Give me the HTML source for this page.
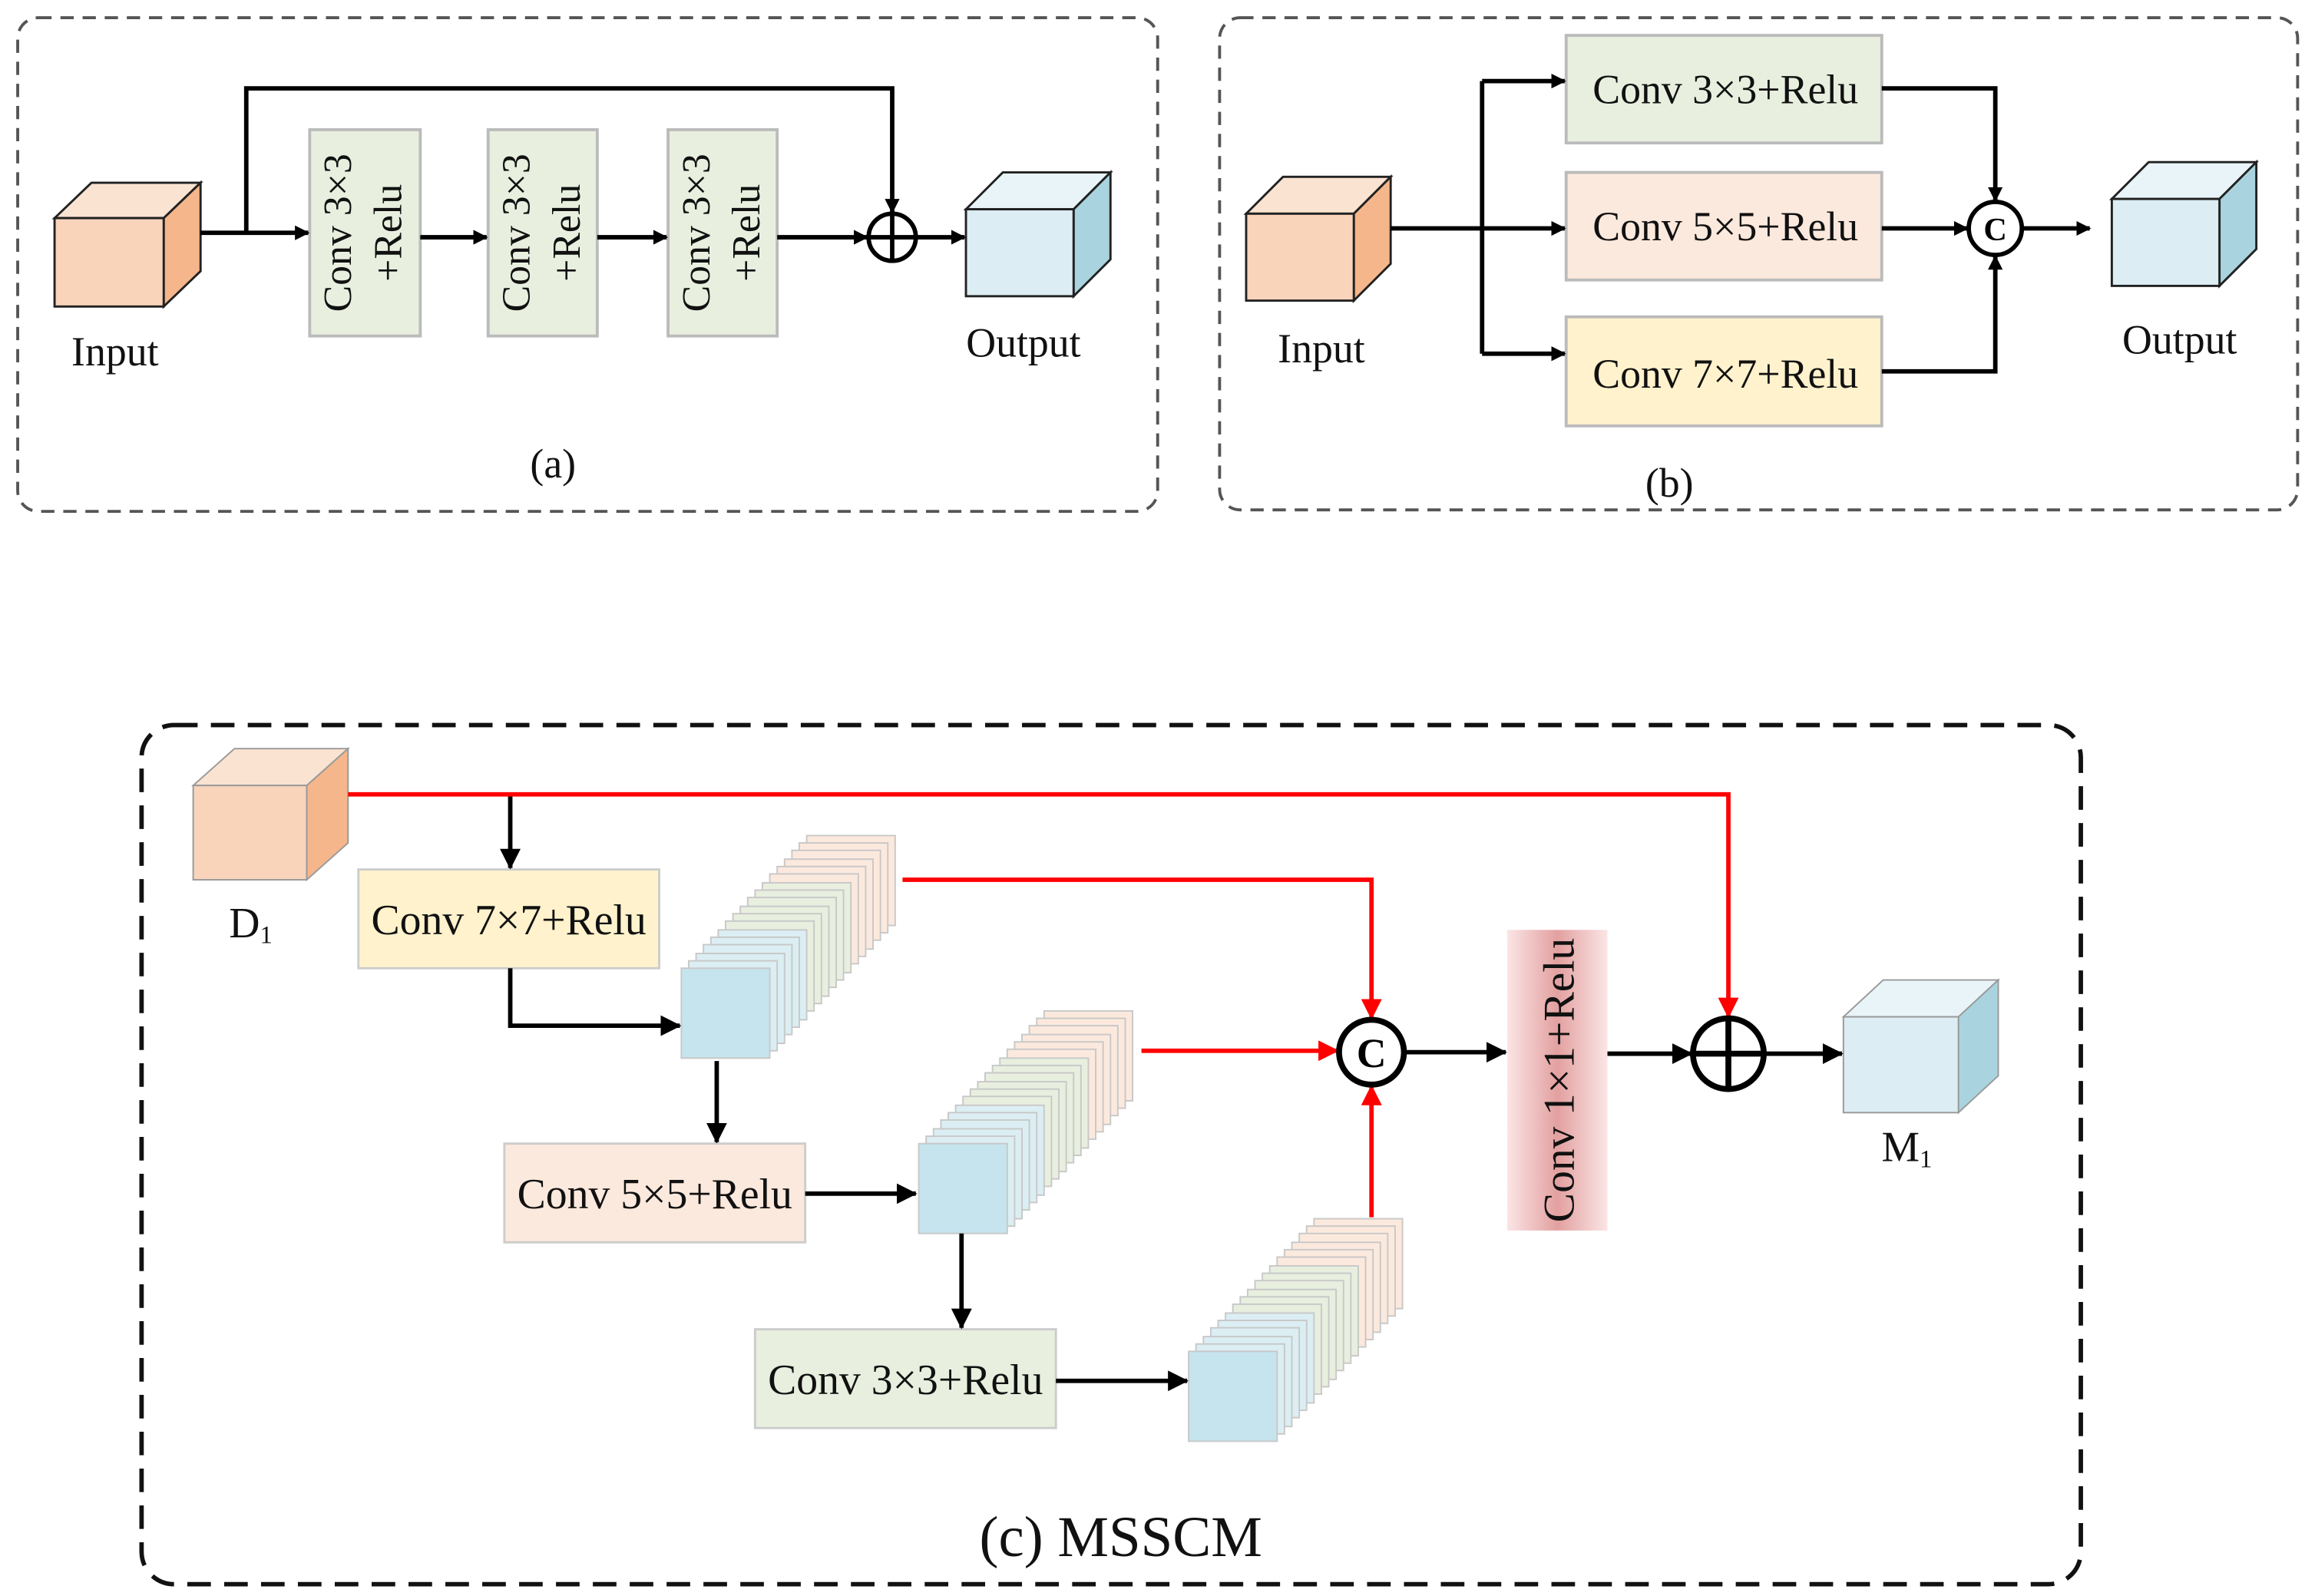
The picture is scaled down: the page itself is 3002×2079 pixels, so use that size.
<!DOCTYPE html>
<html><head><meta charset="utf-8"><style>html,body{margin:0;padding:0;background:#fff}svg{display:block}</style></head>
<body>
<svg width="3002" height="2079" viewBox="0 0 1563 1083" preserveAspectRatio="none" xmlns="http://www.w3.org/2000/svg" font-family="Liberation Serif, serif">
<defs>
<marker id="ab" markerWidth="10" markerHeight="10" refX="9" refY="5" orient="auto" markerUnits="userSpaceOnUse"><path d="M0,0 L10,5 L0,10 z" fill="#000"/></marker>
<marker id="abl" markerWidth="14" markerHeight="14" refX="13" refY="7" orient="auto" markerUnits="userSpaceOnUse"><path d="M0,0 L14,7 L0,14 z" fill="#000"/></marker>
<marker id="ar" markerWidth="14" markerHeight="14" refX="13" refY="7" orient="auto" markerUnits="userSpaceOnUse"><path d="M0,0 L14,7 L0,14 z" fill="#f00"/></marker>
<linearGradient id="g11" x1="0" x2="1" y1="0" y2="0"><stop offset="0" stop-color="#fbe5e5"/><stop offset="0.5" stop-color="#e3a0a0"/><stop offset="1" stop-color="#fbe5e5"/></linearGradient>
</defs>

<rect x="12" y="12" width="773" height="335" rx="14" fill="none" stroke="#555" stroke-width="2" stroke-dasharray="9,6"/>
<g stroke="#222" stroke-width="1.5">
<polygon points="37,148 62,124 136,124 111,148" fill="#fbe3d1"/>
<polygon points="111,148 136,124 136,184 111,208" fill="#f5b68b"/>
<rect x="37" y="148" width="74" height="60" fill="#f9d4bb"/>
<polygon points="655,142 680,117 753,117 728,142" fill="#e8f4f8"/>
<polygon points="728,142 753,117 753,176 728,201" fill="#a9d4df"/>
<rect x="655" y="142" width="73" height="59" fill="#dcedf3"/>
</g>
<g fill="#e8efdf" stroke="#bbb" stroke-width="2">
<rect x="210" y="88" width="75" height="140"/><rect x="331" y="88" width="74" height="140"/><rect x="453" y="88" width="74" height="140"/>
</g>
<g font-size="27" fill="#111" text-anchor="middle">
<text transform="translate(238,158) rotate(-90)">Conv 3×3</text><text transform="translate(272,158) rotate(-90)">+Relu</text>
<text transform="translate(359,158) rotate(-90)">Conv 3×3</text><text transform="translate(393,158) rotate(-90)">+Relu</text>
<text transform="translate(481,158) rotate(-90)">Conv 3×3</text><text transform="translate(515,158) rotate(-90)">+Relu</text>
</g>
<g font-size="28" fill="#111" text-anchor="middle">
<text x="78" y="248">Input</text><text x="694" y="242">Output</text><text x="375" y="324">(a)</text>
</g>
<g stroke="#000" stroke-width="3" fill="none">
<line x1="136" y1="158" x2="209" y2="158" marker-end="url(#ab)"/>
<polyline points="167,158 167,60 605,60 605,144" marker-end="url(#ab)"/>
<line x1="285" y1="161" x2="330" y2="161" marker-end="url(#ab)"/>
<line x1="405" y1="161" x2="452" y2="161" marker-end="url(#ab)"/>
<line x1="527" y1="161" x2="588" y2="161" marker-end="url(#ab)"/>
<line x1="621" y1="161" x2="654" y2="161" marker-end="url(#ab)"/>
<circle cx="605" cy="161" r="16" fill="#fff"/>
<line x1="589" y1="161" x2="621" y2="161"/><line x1="605" y1="145" x2="605" y2="177"/>
</g>

<rect x="827" y="12" width="731" height="334" rx="14" fill="none" stroke="#555" stroke-width="2" stroke-dasharray="9,6"/>
<g stroke="#222" stroke-width="1.5">
<polygon points="845,145 870,120 943,120 918,145" fill="#fbe3d1"/>
<polygon points="918,145 943,120 943,179 918,204" fill="#f5b68b"/>
<rect x="845" y="145" width="73" height="59" fill="#f9d4bb"/>
<polygon points="1432,135 1457,110 1530,110 1505,135" fill="#e8f4f8"/>
<polygon points="1505,135 1530,110 1530,169 1505,194" fill="#a9d4df"/>
<rect x="1432" y="135" width="73" height="59" fill="#dcedf3"/>
</g>
<g stroke="#bbb" stroke-width="2">
<rect x="1062" y="24" width="214" height="73" fill="#e8efdf"/>
<rect x="1062" y="117" width="214" height="73" fill="#fce9dd"/>
<rect x="1062" y="215" width="214" height="74" fill="#fff2cc"/>
</g>
<g font-size="28" fill="#111" text-anchor="middle">
<text x="1170" y="70">Conv 3×3+Relu</text><text x="1170" y="163">Conv 5×5+Relu</text><text x="1170" y="263">Conv 7×7+Relu</text>
<text x="896" y="246">Input</text><text x="1478" y="240">Output</text><text x="1132" y="337">(b)</text>
</g>
<g stroke="#000" stroke-width="3" fill="none">
<line x1="943" y1="155" x2="1061" y2="155" marker-end="url(#ab)"/>
<polyline points="1005,55 1005,240"/>
<line x1="1005" y1="55" x2="1061" y2="55" marker-end="url(#ab)"/>
<line x1="1005" y1="240" x2="1061" y2="240" marker-end="url(#ab)"/>
<polyline points="1276,60 1353,60 1353,136" marker-end="url(#ab)"/>
<line x1="1276" y1="155" x2="1334" y2="155" marker-end="url(#ab)"/>
<polyline points="1276,252 1353,252 1353,174" marker-end="url(#ab)"/>
<line x1="1371" y1="155" x2="1417" y2="155" marker-end="url(#ab)"/>
<circle cx="1353" cy="155" r="18" fill="#fff"/>
</g>
<text x="1353" y="163" font-size="22" font-weight="bold" text-anchor="middle">C</text>

<rect x="96" y="492" width="1315" height="583" rx="22" fill="none" stroke="#111" stroke-width="3" stroke-dasharray="16,9"/>
<g stroke="#999" stroke-width="1">
<polygon points="131,533 159,508 236,508 208,533" fill="#fbe3d1"/>
<polygon points="208,533 236,508 236,572 208,597" fill="#f5b68b"/>
<rect x="131" y="533" width="77" height="64" fill="#f9d4bb"/>
<polygon points="1250,690 1277,665 1355,665 1328,690" fill="#e8f4f8"/>
<polygon points="1328,690 1355,665 1355,730 1328,755" fill="#a9d4df"/>
<rect x="1250" y="690" width="78" height="65" fill="#dcedf3"/>
</g>
<g stroke="#ccc" stroke-width="1.5">
<rect x="243" y="590" width="204" height="67" fill="#fff2cc"/>
<rect x="342" y="776" width="204" height="67" fill="#fce9dd"/>
<rect x="512" y="902" width="204" height="67" fill="#e8efdf"/>
</g>
<rect x="1022" y="631" width="68" height="204" fill="url(#g11)"/>

<g stroke="#c8c8c8" stroke-width="1">
<g id="s1">
<rect x="547" y="567" width="60" height="61" fill="#fce9dd"/><rect x="542" y="572" width="60" height="61" fill="#fce9dd"/><rect x="537" y="577" width="60" height="61" fill="#fce9dd"/><rect x="532" y="583" width="60" height="61" fill="#fce9dd"/><rect x="527" y="588" width="60" height="61" fill="#fce9dd"/><rect x="522" y="593" width="60" height="61" fill="#fce9dd"/>
<rect x="517" y="599" width="60" height="61" fill="#e8efdf"/><rect x="512" y="604" width="60" height="61" fill="#e8efdf"/><rect x="507" y="609" width="60" height="61" fill="#e8efdf"/><rect x="502" y="615" width="60" height="61" fill="#e8efdf"/><rect x="497" y="620" width="60" height="61" fill="#e8efdf"/><rect x="492" y="625" width="60" height="61" fill="#e8efdf"/>
<rect x="487" y="631" width="60" height="61" fill="#dbeef3"/><rect x="482" y="636" width="60" height="61" fill="#dbeef3"/><rect x="477" y="641" width="60" height="61" fill="#dbeef3"/><rect x="472" y="647" width="60" height="61" fill="#dbeef3"/><rect x="467" y="652" width="60" height="61" fill="#dbeef3"/><rect x="462" y="657" width="60" height="61" fill="#c5e4ee"/>
</g>
<use href="#s1" transform="translate(161,119)"/>
<use href="#s1" transform="translate(344,260)"/>
</g>

<g stroke="#000" stroke-width="3" fill="none">
<line x1="346" y1="539" x2="346" y2="589" marker-end="url(#abl)"/>
<polyline points="346,657 346,696 461,696" marker-end="url(#abl)"/>
<line x1="486" y1="720" x2="486" y2="775" marker-end="url(#abl)"/>
<line x1="546" y1="810" x2="621" y2="810" marker-end="url(#abl)"/>
<line x1="652" y1="837" x2="652" y2="901" marker-end="url(#abl)"/>
<line x1="716" y1="937" x2="805" y2="937" marker-end="url(#abl)"/>
<line x1="952" y1="714" x2="1021" y2="714" marker-end="url(#abl)"/>
<line x1="1090" y1="715" x2="1147" y2="715" marker-end="url(#abl)"/>
<line x1="1196" y1="715" x2="1249" y2="715" marker-end="url(#abl)"/>
</g>
<g stroke="#f00" stroke-width="3" fill="none">
<polyline points="236,539 1172,539 1172,690" marker-end="url(#ar)"/>
<polyline points="612,597 930,597 930,691" marker-end="url(#ar)"/>
<line x1="774" y1="713" x2="907" y2="713" marker-end="url(#ar)"/>
<line x1="930" y1="826" x2="930" y2="737" marker-end="url(#ar)"/>
</g>
<g stroke="#000" stroke-width="4" fill="#fff">
<circle cx="930" cy="714" r="22"/>
<circle cx="1172" cy="715" r="24"/>
</g>
<g stroke="#000" stroke-width="4"><line x1="1148" y1="715" x2="1196" y2="715"/><line x1="1172" y1="691" x2="1172" y2="739"/></g>
<text x="930" y="724" font-size="28" font-weight="bold" text-anchor="middle">C</text>
<g font-size="29" fill="#111" text-anchor="middle">
<text x="345" y="634">Conv 7×7+Relu</text><text x="444" y="820">Conv 5×5+Relu</text><text x="614" y="946">Conv 3×3+Relu</text>
<text transform="translate(1067,733) rotate(-90)" font-size="30">Conv 1×1+Relu</text>
<text x="170" y="636">D<tspan font-size="17" dy="4">1</tspan></text>
<text x="1293" y="788">M<tspan font-size="17" dy="4">1</tspan></text>
<text x="760" y="1056" font-size="39">(c) MSSCM</text>
</g>
</svg>
</body></html>
